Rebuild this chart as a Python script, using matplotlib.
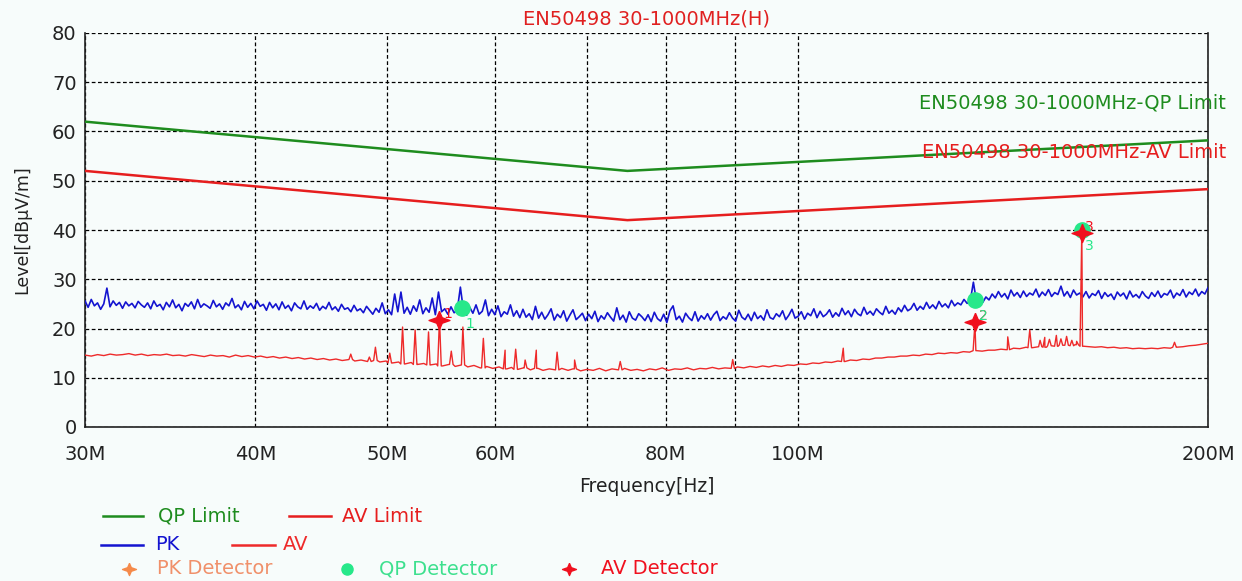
import numpy as np
import matplotlib
matplotlib.use('Agg')
import matplotlib.pyplot as plt
from matplotlib.lines import Line2D
from matplotlib.ticker import FixedLocator, NullFormatter

# ---- data (frequencies in MHz, levels in dBuV/m) ----
sweep_start, sweep_stop = 30.0, 200.0

pk_level = [
    25.6, 24.3, 25.9, 24.6, 25.2, 23.9, 25.0, 28.2, 24.4, 25.6, 24.7, 25.3, 24.1, 25.4, 24.6, 25.1, 24.2, 25.5, 24.8, 24.3,
    25.2, 24.0, 25.6, 24.5, 24.9, 23.8, 25.3, 24.4, 25.8, 24.2, 24.9, 23.6, 25.1, 24.5, 25.4, 24.0, 25.9, 24.3, 25.0, 24.6,
    24.1, 25.7, 24.4, 25.0, 23.9, 25.2, 24.6, 26.1, 24.2, 24.8, 23.8, 25.5, 24.3, 25.1, 24.0, 25.6, 24.5, 24.9, 23.7, 25.3,
    24.2, 25.0, 23.8, 25.4, 24.1, 24.7, 23.6, 25.2, 24.4, 24.0, 25.6, 23.9, 24.6, 24.1, 25.1, 23.7, 24.5, 24.0, 25.3, 23.8,
    24.4, 23.5, 24.9, 23.9, 24.2, 23.4, 24.7, 23.6, 24.0, 23.2, 24.5, 23.7, 22.9, 24.1, 23.3, 25.2, 23.0, 23.8, 22.8, 27.0,
    23.4, 27.4, 23.1, 24.3, 22.9, 24.6, 23.5, 25.8, 23.0, 24.2, 23.3, 26.2, 22.8, 27.4, 23.4, 24.0, 22.9, 24.4, 23.2, 23.7,
    28.4, 23.6, 22.7, 24.3, 23.1, 24.8, 22.9, 23.5, 25.8, 22.6, 23.9, 22.8, 24.6, 22.4, 23.4, 22.9, 24.8, 22.5, 23.6, 22.2,
    23.9, 22.3, 23.0, 21.8, 24.5, 22.1, 23.3, 21.9, 22.8, 24.0, 21.7, 22.9, 22.2, 23.6, 21.5, 22.7, 23.8, 21.8, 22.4, 23.1,
    21.6, 22.9, 22.0, 23.5, 21.4, 22.6, 21.9, 23.2, 22.3, 21.5, 24.2, 21.8, 22.7, 21.3, 23.4, 22.1, 21.7, 23.0, 22.4, 21.6,
    22.8, 21.4, 23.3, 22.0, 21.5, 22.9, 21.2, 23.6, 24.6, 21.8, 22.5, 21.3, 23.1, 22.2, 21.6, 23.4, 21.5, 22.6, 21.9, 23.0,
    21.7, 22.8, 23.5, 21.6, 22.4, 21.9, 23.2, 22.1, 21.5, 23.7, 22.3, 21.8, 22.9, 21.6, 23.3, 22.0, 22.6, 21.7, 23.8, 22.2,
    21.9, 23.0, 22.4, 23.6, 21.8, 22.7, 23.9, 22.1, 22.5, 23.4, 21.9, 23.1, 22.6, 24.0, 22.2, 23.5, 22.4, 22.9, 23.8, 22.3,
    23.2, 22.5, 24.1, 22.8, 23.6, 22.4, 23.9, 23.0, 22.6, 24.3, 22.9, 23.5, 22.7, 24.0, 23.3, 22.8, 24.5, 23.1, 23.7, 22.9,
    24.2, 23.4, 24.7, 23.6, 24.0, 25.1, 23.7, 24.5, 23.9, 25.3, 24.1, 24.8, 24.0, 25.5, 24.4, 25.0, 24.2, 25.7, 24.6, 25.2,
    24.8, 25.9, 25.1, 25.6, 29.4, 25.4, 26.0, 25.3, 26.4, 25.8, 27.0, 26.2, 27.5, 26.4, 27.1, 26.0, 27.8, 26.6, 27.3, 26.3,
    27.6, 26.5, 27.2, 26.8, 28.0, 26.4, 27.4, 26.7, 27.9, 26.5, 27.3, 26.9, 28.6, 26.6, 27.5, 26.3, 27.8, 26.8, 27.2, 26.4,
    27.5, 26.2, 27.1, 26.7, 27.7, 26.1, 27.3, 26.5, 27.0, 25.9, 27.4, 26.6, 27.2, 26.0, 27.6, 26.4, 26.9, 26.2, 27.5, 26.6,
    26.1, 27.3, 26.5, 27.6, 26.3, 27.1, 26.8, 27.8, 26.2, 27.2, 26.7, 27.9, 26.4, 27.4, 26.9, 28.0, 26.6, 27.5, 27.0, 28.3,
]

av_base = [
    14.6, 14.4, 14.7, 14.5, 14.8, 14.6, 14.7, 14.9, 14.6, 14.8, 14.5, 14.7, 14.6, 14.8, 14.5, 14.6, 14.4, 14.7, 14.5, 14.3,
    14.6, 14.4, 14.5, 14.2, 14.6, 14.3, 14.5, 14.2, 14.4, 14.1, 14.3, 14.0, 14.2, 13.9, 14.1, 13.8, 14.0, 13.7, 13.9, 13.6,
    13.8, 13.5, 13.7, 13.4, 13.6, 13.3, 13.5, 13.2, 13.4, 13.0, 13.2, 12.8, 13.1, 12.7, 12.9, 12.6, 12.8, 12.4, 12.7, 12.3,
    12.6, 12.2, 12.5, 12.0, 12.3, 11.9, 12.2, 11.8, 12.1, 11.7, 12.0, 11.6, 11.9, 11.5, 11.8, 11.6, 11.9, 11.5, 11.8, 11.4,
    11.7, 11.5, 11.9, 11.4, 11.8, 11.6, 11.9, 11.5, 11.7, 11.4, 11.8, 11.6, 12.0, 11.5, 11.8, 11.7, 12.0, 11.6, 11.9, 11.8,
    12.1, 11.8, 12.0, 11.9, 12.2, 12.0, 12.3, 12.1, 12.4, 12.2, 12.5, 12.3, 12.6, 12.5, 12.8, 12.7, 13.0, 12.9, 13.2, 13.1,
    13.4, 13.3, 13.6, 13.5, 13.8, 13.7, 14.0, 14.0, 14.2, 14.2, 14.4, 14.4, 14.6, 14.5, 14.8, 14.7, 15.0, 14.9, 15.1, 15.0,
    15.3, 15.2, 15.5, 15.4, 15.6, 15.6, 15.8, 15.7, 16.0, 15.9, 16.2, 16.1, 16.3, 16.2, 16.5, 16.4, 16.6, 16.5, 16.7, 16.4,
    16.3, 16.2, 16.3, 16.1, 16.2, 16.0, 16.1, 15.9, 16.0, 15.9, 16.0, 15.9, 16.1, 16.0, 16.2, 16.3, 16.5, 16.6, 16.8, 17.0,
]

av_spike_freq = [47.0, 48.5, 49.0, 50.2, 51.3, 52.4, 53.6, 54.6, 55.7, 56.8, 58.8, 61.0, 62.1, 63.1, 64.3,
                 66.6, 68.6, 74.1, 89.6, 108.0, 134.9, 142.6, 148.0, 150.6, 151.8, 153.0, 154.8, 156.0,
                 157.5, 158.9, 160.2, 161.6, 189.0]
av_spike_level = [14.8, 14.2, 16.2, 15.0, 20.3, 19.7, 19.3, 22.0, 15.4, 20.3, 18.0, 15.6, 15.8, 13.6, 15.6,
                  15.2, 13.6, 13.3, 13.7, 16.0, 21.0, 18.3, 19.7, 17.6, 18.2, 17.8, 18.6, 17.9,
                  18.4, 17.6, 17.4, 40.0, 17.2]

qp_limit_freq = [30, 75, 200]
qp_limit_level = [62, 52, 58.2]
av_limit_freq = [30, 75, 200]
av_limit_level = [52, 42, 48.3]

qp_det_freq = [56.7, 135.0, 161.6]
qp_det_level = [24.1, 25.8, 40.0]
av_det_freq = [54.6, 135.0, 161.6]
av_det_level = [21.7, 21.3, 39.3]
det_labels = ['1', '2', '3']

tick_freq = [30, 40, 50, 60, 80, 100, 200]
tick_labels = ['30M', '40M', '50M', '60M', '80M', '100M', '200M']
minor_freq = [70, 90]

# ---- colours ----
bg = '#f7fcfb'
c_qp = '#1e8c1e'
c_avlim = '#e61e1e'
c_pk = '#1414d0'
c_av = '#ee2a2a'
c_qpdet = '#27e88a'
c_avdet = '#f0101e'
c_pkdet = '#f58a4a'

W, H = 1242, 581
fig = plt.figure(figsize=(W / 100, H / 100), dpi=100, facecolor=bg)
ax = fig.add_axes([85 / W, 1 - 427 / H, 1123 / W, 394 / H], facecolor=bg)

star = [(0, 1), (0.3, 0.3), (1.15, 0), (0.3, -0.3), (0, -1),
        (-0.3, -0.3), (-1.15, 0), (-0.3, 0.3), (0, 1)]

# traces
pk_f = np.geomspace(sweep_start, sweep_stop, len(pk_level)) * 1e6
av_f = np.geomspace(sweep_start, sweep_stop, len(av_base)) * 1e6

av_x = list(av_f)
av_y = list(av_base)
for fs, ls in zip(av_spike_freq, av_spike_level):
    k = int(np.argmin(np.abs(av_f - fs * 1e6)))
    b = av_base[k]
    av_x += [fs * 0.997e6, fs * 1e6, fs * 1.003e6]
    av_y += [b, ls, b]
order = np.argsort(av_x, kind='stable')
av_x = np.array(av_x)[order]
av_y = np.array(av_y)[order]

ax.plot(np.array(qp_limit_freq) * 1e6, qp_limit_level, color=c_qp, lw=1.8, zorder=3)
ax.plot(np.array(av_limit_freq) * 1e6, av_limit_level, color=c_avlim, lw=1.8, zorder=3)
ax.plot(pk_f, pk_level, color=c_pk, lw=1.2, zorder=4)
ax.plot(av_x, av_y, color=c_av, lw=1.0, zorder=5)

ax.plot(np.array(qp_det_freq) * 1e6, qp_det_level, ls='none', marker='o',
        ms=11, color=c_qpdet, zorder=6)
ax.plot(np.array(av_det_freq) * 1e6, av_det_level, ls='none', marker=star,
        ms=15, color=c_avdet, zorder=7)

for f, l, t in zip(qp_det_freq, qp_det_level, det_labels):
    ax.annotate(t, (f * 1e6, l), xytext=(8, -16), textcoords='offset pixels',
                color=c_qpdet, fontsize=10, ha='center', va='center', zorder=8)
for f, l, t in zip(av_det_freq, av_det_level, det_labels):
    ax.annotate(t, (f * 1e6, l), xytext=(8, 6), textcoords='offset pixels',
                color=c_avdet, fontsize=10, ha='center', va='center', zorder=5.5)

# axes
ax.set_xscale('log')
ax.set_xlim(30e6, 200e6)
ax.set_ylim(0, 80)
ax.set_xticks(np.array(tick_freq) * 1e6, tick_labels)
ax.xaxis.set_minor_locator(FixedLocator(np.array(minor_freq) * 1e6))
ax.xaxis.set_minor_formatter(NullFormatter())
ax.set_yticks(range(0, 81, 10))
ax.tick_params(axis='both', which='both', length=0, labelsize=14, colors='#222222')
ax.tick_params(axis='x', pad=13)
ax.tick_params(axis='y', pad=6)
ax.grid(True, which='both', axis='x', color='black', ls=(0, (3, 2)), lw=0.9)
ax.grid(True, which='major', axis='y', color='black', ls=(0, (3, 2)), lw=0.9)
ax.spines['top'].set_visible(False)
for s in ['left', 'bottom', 'right']:
    ax.spines[s].set_color('#222222')
    ax.spines[s].set_linewidth(1.2)

ax.set_title('EN50498 30-1000MHz(H)', color='#e02020', fontsize=14, pad=6)
ax.set_xlabel('Frequency[Hz]', fontsize=13.5, color='#222222')
ax.xaxis.set_label_coords(0.5, -0.128)
ax.set_ylabel('Level[dBμV/m]', fontsize=12.5, color='#222222')
ax.yaxis.set_label_coords(-0.048, 0.5)

ax.text(1.016, 65.7, 'EN50498 30-1000MHz-QP Limit', color=c_qp, fontsize=14,
        ha='right', va='center', transform=ax.get_yaxis_transform(), clip_on=False)
ax.text(1.016, 55.8, 'EN50498 30-1000MHz-AV Limit', color=c_avlim, fontsize=14,
        ha='right', va='center', transform=ax.get_yaxis_transform(), clip_on=False)

# legend drawn below the axes
def fx(px):
    return px / W

def fy(py):
    return 1 - py / H

def leg_line(x0, x1, y, color, label, tx):
    fig.add_artist(Line2D([fx(x0), fx(x1)], [fy(y), fy(y)], color=color, lw=1.8,
                          transform=fig.transFigure))
    fig.text(fx(tx), fy(y), label, color=color, fontsize=14, ha='left', va='center')

def leg_mark(x, y, marker, ms, color, label, tx, tcolor):
    fig.add_artist(Line2D([fx(x)], [fy(y)], marker=marker, ms=ms, color=color, ls='none',
                          transform=fig.transFigure))
    fig.text(fx(tx), fy(y), label, color=tcolor, fontsize=14, ha='left', va='center')

leg_line(103, 143, 516, c_qp, 'QP Limit', 158)
leg_line(289, 331, 516, c_avlim, 'AV Limit', 342)
leg_line(101, 143, 545, c_pk, 'PK', 155)
leg_line(232, 275, 545, c_av, 'AV', 283)
leg_mark(129, 569, star, 10, c_pkdet, 'PK Detector', 157, '#f0906a')
leg_mark(347, 569, 'o', 8, c_qpdet, 'QP Detector', 379, '#3de08e')
leg_mark(569, 569, star, 10, c_avdet, 'AV Detector', 601, c_avdet)

fig.savefig('out.png', dpi=100, facecolor=bg)
